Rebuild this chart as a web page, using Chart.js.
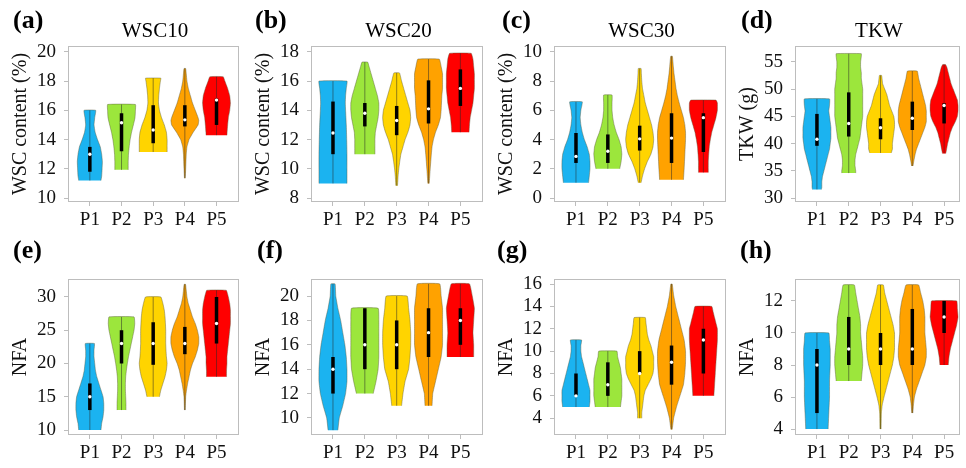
<!DOCTYPE html>
<html>
<head>
<meta charset="utf-8">
<script src="https://cdn.jsdelivr.net/npm/chart.js@4.4.1/dist/chart.umd.min.js"></script>
<style>
  html, body { margin: 0; padding: 0; background: #fff; }
  body { position: relative; width: 966px; height: 468px; overflow: hidden; font-family: "Liberation Serif", "Times New Roman", serif; color: #000; }
  canvas { position: absolute; }
  .letter { position: absolute; font-weight: bold; font-size: 26px; line-height: 26px; }
  .title { position: absolute; font-size: 21px; line-height: 21px; width: 200px; text-align: center; }
</style>
</head>
<body>
<script>
const categories = ['P1', 'P2', 'P3', 'P4', 'P5'];
const panelLetters = ['(a)', '(b)', '(c)', '(d)', '(e)', '(f)', '(g)', '(h)'];
const panelTitles = ['WSC10', 'WSC20', 'WSC30', 'TKW', '', '', '', ''];
const yTitles = ['WSC content (%)', 'WSC content (%)', 'WSC content (%)', 'TKW (g)', 'NFA', 'NFA', 'NFA', 'NFA'];
const yTicks = [
  [10, 12, 14, 16, 18, 20],
  [8, 10, 12, 14, 16, 18],
  [0, 2, 4, 6, 8, 10],
  [30, 35, 40, 45, 50, 55],
  [10, 15, 20, 25, 30],
  [10, 12, 14, 16, 18, 20],
  [4, 6, 8, 10, 12, 14, 16],
  [4, 6, 8, 10, 12]
];
const yRanges = [[9.73, 20.4], [7.73, 18.4], [-0.27, 10.4], [29.3, 57.9], [9.25, 32.7], [8.6, 21.4], [2.5, 16.45], [3.63, 13.37]];

// violin outlines: [value, relative half width] from bottom to top
const wsc10Median = [13.0, 15.15, 14.65, 15.35, 16.7];
const wsc10Iqr = [[11.8, 13.5], [13.2, 15.8], [13.75, 16.35], [14.9, 16.35], [15.0, 16.8]];
const wsc10Shape = [
  [[11.2, .8], [11.5, .85], [12, .88], [12.5, .9], [13, .85], [13.5, .75], [14, .55], [14.5, .38], [15, .3], [15.5, .35], [16, .42]],
  [[11.93, .48], [12.5, .48], [13, .5], [13.5, .55], [14, .62], [14.5, .72], [15, .85], [15.5, .97], [16, 1], [16.4, 1]],
  [[13.15, 1], [13.5, 1], [14, 1], [14.5, .95], [15, .8], [15.5, .6], [16, .45], [16.5, .38], [17, .4], [17.5, .45], [18, .52], [18.2, .55]],
  [[11.36, .03], [12, .06], [13, .1], [13.5, .15], [14, .3], [14.5, .6], [15, .95], [15.3, 1], [15.5, .95], [16, .75], [16.5, .55], [17, .4], [17.5, .25], [18, .15], [18.5, .1], [18.86, .06]],
  [[14.3, .75], [14.5, .76], [15, .8], [15.5, .85], [16, .95], [16.5, 1], [17, .95], [17.5, .8], [18, .6], [18.3, .48]]
];

const wsc20Median = [12.45, 13.8, 13.3, 14.1, 15.5];
const wsc20Iqr = [[11.0, 14.6], [12.9, 14.5], [12.3, 14.3], [13.1, 16.05], [14.3, 16.8]];
const wsc20Shape = [
  [[9, 1], [10, 1], [11, 1], [12, .98], [13, .95], [14, .9], [14.5, .88], [15, .9], [15.5, .95], [16, 1]],
  [[11, .72], [11.5, .72], [12, .72], [12.5, .75], [13, .85], [13.5, .95], [14, 1], [14.5, 1], [15, .9], [15.5, .75], [16, .6], [16.5, .45], [17, .3], [17.3, .2]],
  [[8.85, .06], [9.5, .1], [10, .15], [10.5, .22], [11, .3], [11.5, .45], [12, .6], [12.5, .8], [13, .95], [13.5, 1], [14, .95], [14.5, .8], [15, .65], [15.5, .5], [16, .35], [16.56, .2]],
  [[9, .05], [10, .12], [11, .2], [11.5, .25], [12, .35], [12.5, .5], [13, .7], [13.5, .85], [14, .9], [15, .95], [15.5, 1], [16, 1], [16.5, 1], [17, .9], [17.5, .77]],
  [[12.5, .62], [13, .65], [13.5, .7], [14, .8], [14.5, .9], [15, .95], [15.5, 1], [16, 1], [16.5, 1], [17, .95], [17.5, .9], [17.9, .77]]
];

const wsc30Median = [2.85, 3.2, 4.05, 4.1, 5.5];
const wsc30Iqr = [[2.4, 4.45], [2.4, 4.35], [3.25, 4.95], [2.4, 5.8], [3.15, 5.8]];
const wsc30Shape = [
  [[1.05, .9], [1.5, .95], [2, 1], [2.5, 1], [3, .95], [3.5, .8], [4, .6], [4.5, .45], [5, .35], [5.5, .3], [6, .35], [6.58, .45]],
  [[2, .85], [2.5, .95], [3, 1], [3.5, .95], [4, .8], [4.5, .6], [5, .45], [5.5, .35], [6, .3], [6.5, .3], [7.05, .3]],
  [[1.05, .1], [1.5, .2], [2, .35], [2.5, .55], [3, .8], [3.5, .95], [4, 1], [4.5, .95], [5, .85], [5.5, .7], [6, .55], [6.5, .4], [7, .3], [7.5, .2], [8, .15], [8.5, .12], [8.86, .1]],
  [[1.25, .85], [2, .9], [3, .95], [4, 1], [4.5, 1], [5, .95], [5.5, .85], [6, .7], [6.5, .55], [7, .42], [7.5, .32], [8, .25], [8.5, .18], [9, .13], [9.7, .06]],
  [[1.75, .35], [2, .35], [2.5, .35], [3, .38], [3.5, .42], [4, .5], [4.5, .6], [5, .75], [5.5, .9], [6, 1], [6.5, 1], [6.7, .9]]
];

const tkwMedian = [40.8, 43.7, 42.9, 44.65, 47.0];
const tkwIqr = [[39.6, 45.45], [41.3, 49.4], [40.8, 44.65], [42.5, 47.7], [43.7, 47.4]];
const tkwShape = [
  [[31.6, .32], [32, .35], [33, .35], [34, .4], [35, .5], [36, .6], [37, .7], [38, .8], [39, .9], [40, .95], [41, 1], [42, 1], [43, 1], [44, .95], [45, .9], [46, .85], [47, .9], [48.2, .9]],
  [[34.6, .5], [35, .5], [36, .45], [37, .45], [38, .5], [39, .6], [40, .7], [41, .8], [42, .85], [43, .9], [44, .95], [45, 1], [46, 1], [47, 1], [48, 1], [49, 1], [50, 1], [51, .95], [52, .9], [53, .9], [54, .85], [55, .85], [56, .9], [56.5, .9]],
  [[38.3, .77], [39, .85], [40, .85], [41, .9], [42, .95], [43, 1], [44, 1], [45, .95], [46, .8], [47, .65], [48, .55], [49, .45], [50, .3], [51, .15], [52.5, .08]],
  [[35.9, .05], [37, .12], [38, .2], [39, .3], [40, .45], [41, .6], [42, .75], [43, .9], [44, 1], [45, 1], [46, 1], [47, .95], [48, .85], [49, .75], [50, .65], [51, .55], [52, .45], [53.3, .35]],
  [[38.2, .12], [39, .18], [40, .25], [41, .35], [42, .45], [43, .6], [44, .8], [45, .95], [46, 1], [47, 1], [48, .95], [49, .8], [50, .65], [51, .5], [52, .4], [53, .3], [54, .2], [54.5, .1]]
];

const nfaEMedian = [15, 23, 23, 23, 26];
const nfaEIqr = [[13, 17], [20, 25], [19.8, 26.2], [21.4, 25.5], [23, 30]];
const nfaEShape = [
  [[10, .8], [11, .85], [12, .95], [13, 1], [14, 1], [15, .95], [16, .8], [17, .65], [18, .5], [19, .4], [20, .35], [21, .3], [22, .3], [23, .33]],
  [[13, .32], [14, .32], [15, .3], [16, .28], [17, .28], [18, .3], [19, .35], [20, .42], [21, .5], [22, .6], [23, .7], [24, .8], [25, .9], [26, .95], [27, .9]],
  [[15, .45], [16, .55], [17, .7], [18, .85], [19, .95], [20, 1], [21, .95], [22, .92], [23, .9], [24, .9], [25, .9], [26, .88], [27, .85], [28, .8], [29, .7], [30, .55]],
  [[13, .03], [15, .06], [16, .12], [17, .2], [18, .3], [19, .4], [20, .55], [21, .75], [22, .9], [23, 1], [24, 1], [25, .9], [26, .75], [27, .55], [28, .4], [29, .25], [30, .15], [31, .1], [31.9, .05]],
  [[18, .72], [19, .72], [20, .75], [21, .75], [22, .8], [23, .85], [24, .9], [25, .95], [26, 1], [27, 1], [28, 1], [29, .95], [30, .85], [31, .7]]
];

const nfaFMedian = [14, 16, 16, 17, 18];
const nfaFIqr = [[12, 15], [14, 19], [14, 18], [15, 19], [16, 19]];
const nfaFShape = [
  [[9, .35], [10, .45], [11, .7], [12, .9], [13, 1], [14, 1], [15, .95], [16, .85], [17, .7], [18, .55], [19, .35], [20, .2], [21, .15]],
  [[12, .6], [13, .8], [14, .95], [15, 1], [16, 1], [17, 1], [18, 1], [19, .95]],
  [[11, .35], [12, .45], [13, .6], [14, .85], [15, .95], [16, 1], [17, 1], [18, .95], [19, .85], [20, .75]],
  [[11, .25], [12, .3], [13, .5], [14, .7], [15, .9], [16, 1], [17, 1], [18, 1], [19, 1], [20, .9], [21, .8]],
  [[15, .95], [16, .95], [17, .9], [18, .95], [19, 1], [20, .85], [21, .65]]
];

const nfaGMedian = [6, 7, 8, 9, 11];
const nfaGIqr = [[6, 8], [6, 9], [8, 10], [7, 10.5], [8, 12]];
const nfaGShape = [
  [[5, .95], [5.5, 1], [6, 1], [6.5, 1], [7, .9], [7.5, .8], [8, .7], [8.5, .6], [9, .5], [9.5, .4], [10, .35], [10.5, .35], [11, .4]],
  [[5, .9], [5.5, .95], [6, 1], [6.5, 1], [7, 1], [7.5, 1], [8, .95], [8.5, .9], [9, .8], [9.5, .7], [10, .65]],
  [[4, .15], [4.5, .15], [5, .2], [5.5, .25], [6, .3], [6.5, .4], [7, .6], [7.5, .8], [8, .95], [8.5, 1], [9, 1], [9.5, 1], [10, .9], [10.5, .8], [11, .65], [11.5, .55], [12, .5], [12.5, .45], [13, .4]],
  [[3, .05], [4, .15], [5, .35], [6, .6], [7, .85], [8, .95], [9, 1], [10, 1], [11, .9], [12, .7], [13, .5], [14, .3], [15, .15], [16, .05]],
  [[6, .75], [7, .8], [8, .85], [9, .9], [10, .95], [11, 1], [12, 1], [12.5, .9], [13, .8], [13.5, .7], [14, .6]]
];

const nfaHMedian = [8, 9, 9, 9, 11];
const nfaHIqr = [[5, 9], [8, 11], [8, 10], [8, 11.5], [10, 12]];
const nfaHShape = [
  [[4, .8], [5, .85], [6, .9], [7, .9], [8, .95], [9, .95], [9.5, .9], [10, .85]],
  [[7, .9], [7.5, .95], [8, 1], [8.5, 1], [9, .95], [9.5, .9], [10, .85], [10.5, .85], [11, .8], [11.5, .7], [12, .6], [12.5, .5], [13, .4]],
  [[4, .04], [5, .06], [5.5, .12], [6, .25], [6.5, .4], [7, .55], [7.5, .7], [8, .85], [8.5, .95], [9, 1], [9.5, 1], [10, 1], [10.5, .9], [11, .75], [11.5, .6], [12, .45], [12.5, .3], [13, .2]],
  [[5, .04], [5.5, .08], [6, .15], [6.5, .3], [7, .5], [7.5, .7], [8, .9], [8.5, 1], [9, 1], [9.5, .95], [10, .9], [10.5, .9], [11, .9], [11.5, .85], [12, .75], [12.5, .6], [13, .45]],
  [[8, .3], [8.5, .35], [9, .45], [9.5, .6], [10, .75], [10.5, .9], [11, 1], [11.5, .95], [12, .9]]
];

const panels = [
  { median: wsc10Median, iqr: wsc10Iqr, shape: wsc10Shape },
  { median: wsc20Median, iqr: wsc20Iqr, shape: wsc20Shape },
  { median: wsc30Median, iqr: wsc30Iqr, shape: wsc30Shape },
  { median: tkwMedian, iqr: tkwIqr, shape: tkwShape },
  { median: nfaEMedian, iqr: nfaEIqr, shape: nfaEShape },
  { median: nfaFMedian, iqr: nfaFIqr, shape: nfaFShape },
  { median: nfaGMedian, iqr: nfaGIqr, shape: nfaGShape },
  { median: nfaHMedian, iqr: nfaHIqr, shape: nfaHShape }
];

// layout
const fills = ['#1BB3F0', '#9CE63C', '#FFD400', '#FFA200', '#FF0000'];
const halfWidth = 0.44;
const plotLeft = [68, 311, 554, 795];
const plotRight = [242, 486, 729, 963];
const xMax = [5.71, 5.71, 5.71, 5.5];
const rowTop = [0, 233];
const axisW = 68, axisH = 30, padTop = 46, canvasH = 232;
const letterPos = [[13, 7], [255, 7], [502, 7], [741, 7], [13, 237], [257, 237], [497, 237], [740, 237]];
const serif = '"Liberation Serif", "Times New Roman", serif';

Chart.defaults.font.family = serif;
Chart.defaults.color = '#111';

const framePlugin = {
  id: 'frame',
  afterDatasetsDraw(chart) {
    const a = chart.chartArea, ctx = chart.ctx;
    ctx.save();
    ctx.strokeStyle = '#bdbdbd';
    ctx.lineWidth = 1;
    ctx.strokeRect(a.left + 0.5, a.top + 0.5, a.right - a.left - 1, a.bottom - a.top - 1);
    ctx.restore();
  }
};

function buildDatasets(p) {
  const sets = [];
  p.shape.forEach((prof, i) => {
    const x = i + 1;
    const right = prof.map(([y, w]) => ({ x: x + w * halfWidth, y }));
    const left = prof.slice().reverse().map(([y, w]) => ({ x: x - w * halfWidth, y }));
    sets.push({
      data: right.concat(left), fill: 'shape', backgroundColor: fills[i],
      borderColor: 'rgba(90,90,60,0.55)', borderWidth: 0.8, pointRadius: 0, tension: 0.1, order: 3
    });
    sets.push({
      data: [{ x, y: prof[0][0] }, { x, y: prof[prof.length - 1][0] }],
      borderColor: 'rgba(40,40,40,0.5)', borderWidth: 1, pointRadius: 0, order: 2
    });
    sets.push({
      data: [{ x, y: p.iqr[i][0] }, { x, y: p.iqr[i][1] }],
      borderColor: '#000', borderWidth: 3.5, borderCapStyle: 'butt', pointRadius: 0, order: 1
    });
    sets.push({
      data: [{ x, y: p.median[i] }], showLine: false,
      pointRadius: 1.7, pointBackgroundColor: '#fff', pointBorderWidth: 0, order: 0
    });
  });
  return sets;
}

panels.forEach((p, k) => {
  const col = k % 4, row = Math.floor(k / 4);
  const canvas = document.createElement('canvas');
  const w = plotRight[col] - plotLeft[col] + axisW + 1;
  canvas.width = w;
  canvas.height = canvasH;
  canvas.style.left = (plotLeft[col] - axisW) + 'px';
  canvas.style.top = rowTop[row] + 'px';
  document.body.appendChild(canvas);

  const letter = document.createElement('div');
  letter.className = 'letter';
  letter.textContent = panelLetters[k];
  letter.style.left = letterPos[k][0] + 'px';
  letter.style.top = letterPos[k][1] + 'px';
  document.body.appendChild(letter);

  if (panelTitles[k]) {
    const t = document.createElement('div');
    t.className = 'title';
    t.textContent = panelTitles[k];
    t.style.left = ((plotLeft[col] + plotRight[col]) / 2 - 100) + 'px';
    t.style.top = (rowTop[row] + 20) + 'px';
    document.body.appendChild(t);
  }

  new Chart(canvas.getContext('2d'), {
    type: 'line',
    data: { datasets: buildDatasets(p) },
    options: {
      responsive: false,
      devicePixelRatio: 1,
      animation: false,
      layout: { padding: { top: padTop, right: 1, left: 0, bottom: 0 } },
      plugins: { legend: { display: false }, tooltip: { enabled: false } },
      scales: {
        x: {
          type: 'linear', min: 0.31, max: xMax[col],
          afterBuildTicks: s => { s.ticks = categories.map((c, i) => ({ value: i + 1 })); },
          afterFit: s => { s.height = axisH; },
          ticks: { callback: v => categories[v - 1], font: { size: 19 }, color: '#111', padding: 3, autoSkip: false, maxRotation: 0 },
          grid: { drawOnChartArea: false, drawTicks: true, tickLength: 4, color: '#bdbdbd' },
          border: { display: false }
        },
        y: {
          type: 'linear', min: yRanges[k][0], max: yRanges[k][1],
          afterBuildTicks: s => { s.ticks = yTicks[k].map(v => ({ value: v })); },
          afterFit: s => { s.width = axisW; },
          ticks: { font: { size: 19 }, color: '#111', padding: 8 },
          grid: { drawOnChartArea: false, drawTicks: true, tickLength: 4, color: '#bdbdbd' },
          border: { display: false },
          title: { display: true, text: yTitles[k], font: { size: 20 }, color: '#111', padding: { top: 9, bottom: 0 } }
        }
      }
    },
    plugins: [framePlugin]
  });
});
</script>
</body>
</html>
